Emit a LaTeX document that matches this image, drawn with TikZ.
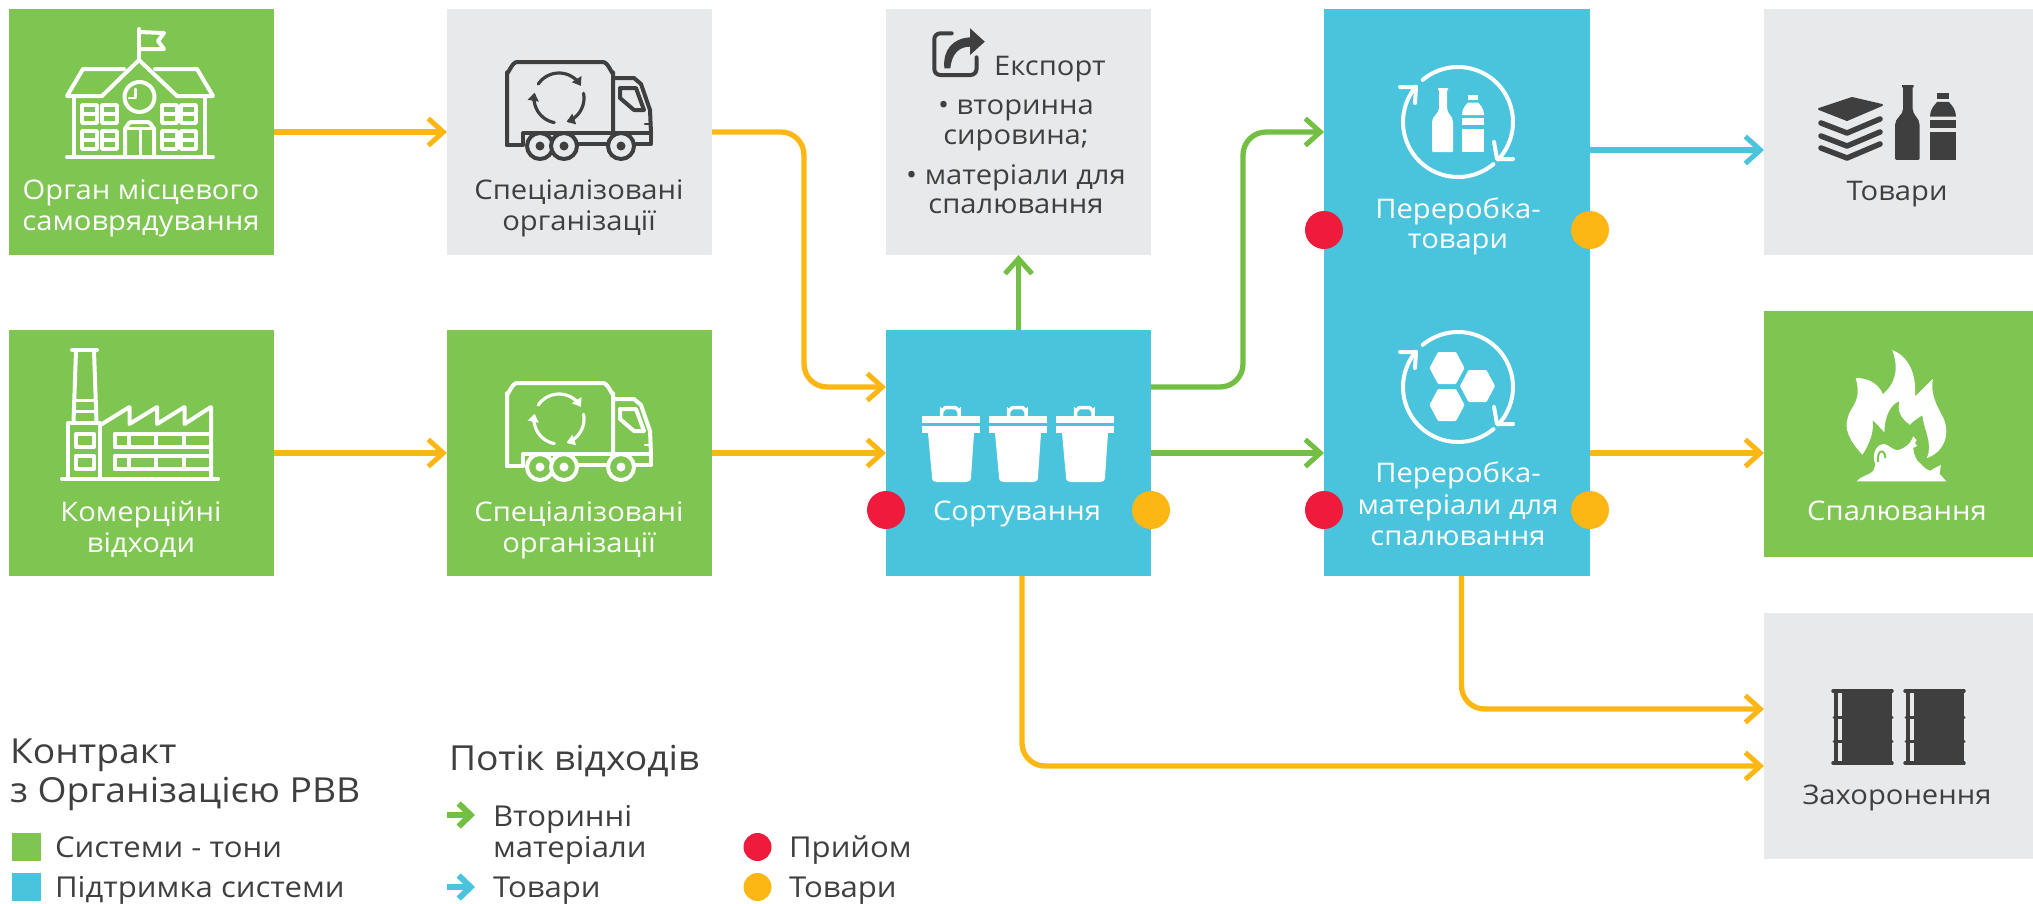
\documentclass[tikz,border=0pt]{standalone}
\usepackage{fontspec}
\setmainfont[FakeStretch=1.08]{Open Sans}
\usetikzlibrary{arrows.meta}
\definecolor{cgreen}{HTML}{7EC552}
\definecolor{cgrey}{HTML}{E8E9EB}
\definecolor{cblue}{HTML}{49C4DC}
\definecolor{corange}{HTML}{FDB714}
\definecolor{cred}{HTML}{EF1B3D}
\definecolor{carrgreen}{HTML}{72BF44}
\definecolor{cdark}{HTML}{3F3F3F}
\tikzset{
 box/.style={inner sep=0pt,outer sep=0pt,draw=none,minimum width=265pt,minimum height=246pt},
 lbl/.style={inner sep=0pt,outer sep=0pt,anchor=base,font=\fontsize{27}{30}\selectfont,text=white},
 dlbl/.style={lbl,text=cdark},
 lgd/.style={inner sep=0pt,outer sep=0pt,anchor=base west,font=\fontsize{28.8}{30}\selectfont,text=cdark},
 lgdh/.style={lgd,font=\fontsize{34.5}{36}\selectfont},
 dotmark/.style={circle,inner sep=0pt,outer sep=0pt,minimum size=38pt},
 conn/.style={line width=5.3pt,rounded corners=23pt,-{Straight Barb[length=15pt,width=27pt,line width=5pt]}},
 lgdarr/.style={line width=6pt,-{Straight Barb[length=12pt,width=23pt,line width=6pt]}},
 icon/.style={line width=4pt,line cap=round,line join=round},
}
\newcommand\truckicon[3]{%
 \begin{scope}[shift={(0,#3)},icon,draw=#1]
 \draw (507,145) -- (507,72) to[out=-90,in=180] (517,62) -- (603,62) to[out=0,in=-90] (613,72) -- (613,133);
 \draw (507,145) -- (523,145) -- (523,133) -- (651,133) -- (651,144) -- (636,144);
 \draw (578,144) -- (608,144);
 \draw (613,78) -- (634,78) -- (641,84) -- (650,110) -- (651,133);
 \draw (620,88) -- (636,88) -- (644,110) -- (634,110) -- (620,98) -- cycle;
 \draw[line width=2.5pt] (645,124) -- (651,124);
 \foreach \cx in {540,564,621}{\draw[fill=#2] (\cx,146) circle[radius=13pt]; \fill[#1] (\cx,146) circle[radius=4.5pt];}
 \begin{scope}[shift={(559,98)}]
 \foreach \a/\b in {-146/-29,-11/72,101/192}{
 \draw[line width=3.2pt,-{Triangle[length=8pt,width=11pt]}] plot[domain=\a:\b,samples=20,variable=\t] ({25*cos(\t)},{25*sin(\t)});}
 \end{scope}
 \end{scope}}
\newcommand\bigcycle[3]{%
 \begin{scope}[shift={(#1,#2)},icon,draw=#3]
 \draw plot[domain=-130:43,samples=40,variable=\t] ({55*cos(\t)},{55*sin(\t)});
 \draw plot[domain=50:220,samples=40,variable=\t] ({55*cos(\t)},{55*sin(\t)});
 \draw (36,20) -- (39,37) -- (55,37);
 \draw (-58,-35) -- (-42,-35) -- (-43,-19);
 \end{scope}}
\newcommand\bottlepair[5]{% x y scale colour bg
 \begin{scope}[shift={(#1,#2)},scale=#3]
 \fill[#4] (6,2) -- (6,0) -- (16,0) -- (16,2) -- (15,2) -- (15,20) .. controls (15,26) and (21,28) .. (21,34) -- (21,63) -- (20,64) -- (1,64) -- (0,63) -- (0,34) .. controls (0,28) and (7,26) .. (7,20) -- (7,2) -- cycle;
 \fill[#4] (36,7) rectangle (46,12);
 \fill[#4] (36,14.5) -- (46,14.5) .. controls (48,17) and (52,20) .. (52,27) -- (30,27) .. controls (30,20) and (34,17) .. (36,14.5) -- cycle;
 \fill[#4] (30,30) rectangle (52,37);
 \fill[#4] (30,40.5) rectangle (52,64);
 \end{scope}}
\newcommand\binicon[1]{%
 \begin{scope}[shift={(#1,0)}]
 \draw[white,line width=3.5pt] (941.5,416) -- (941.5,411) to[out=-90,in=180] (946,407.5) -- (955,407.5) to[out=0,in=-90] (959,411) -- (959,416);
 \fill[white] (922,416) rectangle (980,423);
 \fill[white] (922,426) rectangle (980,433);
 \fill[white] (928,433) -- (974,433) -- (971,477) .. controls (971,481) and (969,482) .. (966,482) -- (937,482) .. controls (934,482) and (932,481) .. (932,477) -- cycle;
 \end{scope}}
\newcommand\drumicon[1]{%
 \begin{scope}[shift={(#1,0)}]
 \fill[cdark] (1842,691) rectangle (1889.5,763);
 \fill[cdark] (1834,691) rectangle (1838,763);
 \fill[cdark] (1889.5,691) rectangle (1892,763);
 \draw[cdark,line width=3.5pt,line cap=round] (1833,691) -- (1892,691);
 \draw[cdark,line width=3.5pt,line cap=round] (1833,763) -- (1892,763);
 \draw[cdark,line width=3pt,line cap=round] (1834,717) -- (1892,717);
 \draw[cdark,line width=3pt,line cap=round] (1834,741) -- (1892,741);
 \end{scope}}
\begin{document}
\begin{tikzpicture}[x=1pt,y=-1pt]
\useasboundingbox (0,0) rectangle (2033,903);
% boxes
\node[box,fill=cgreen] (org) at (141.5,132) {};
\node[box,fill=cgrey] (spec) at (579.5,132) {};
\node[box,fill=cgreen] (comm) at (141.5,453) {};
\node[box,fill=cgreen] (specb) at (579.5,453) {};
\node[box,fill=cgrey] (export) at (1018.5,132) {};
\node[box,fill=cblue] (sort) at (1018.5,453) {};
\node[box,fill=cblue,minimum width=266pt,minimum height=567pt] (recyc) at (1457,292.5) {};
\node[box,fill=cgrey,minimum width=269pt] (goods) at (1898.5,132) {};
\node[box,fill=cgreen,minimum width=269pt] (burn) at (1898.5,434) {};
\node[box,fill=cgrey,minimum width=269pt] (land) at (1898.5,736) {};
% levels
\coordinate (lvlA) at (0,387);
\coordinate (lvlB) at (0,150);
\coordinate (lvlC) at (0,709);
\coordinate (lvlD) at (0,766);
\coordinate (dropA) at (1022,0);
\coordinate (dropB) at (1461.5,0);
\coordinate (turnA) at (804,0);
\coordinate (turnB) at (1243,0);
% connectors
\draw[conn,corange] (org.east) -- (spec.west);
\draw[conn,corange] (comm.east) -- (specb.west);
\draw[conn,corange] (specb.east) -- (sort.west);
\draw[conn,corange] (spec.east) -- (turnA |- spec.east) -- (turnA |- lvlA) -- (sort.west |- lvlA);
\draw[conn,carrgreen] (sort.north) -- (export.south);
\draw[conn,carrgreen] (sort.east |- lvlA) -- (turnB |- lvlA) -- (turnB |- spec.east) -- (recyc.west |- spec.east);
\draw[conn,carrgreen] (sort.east) -- (recyc.west |- sort.east);
\draw[conn,cblue] (recyc.east |- lvlB) -- (goods.west |- lvlB);
\draw[conn,corange] (recyc.east |- sort.east) -- (burn.west |- sort.east);
\draw[conn,corange] (dropB |- recyc.south) -- (dropB |- lvlC) -- (land.west |- lvlC);
\draw[conn,corange] (dropA |- sort.south) -- (dropA |- lvlD) -- (land.west |- lvlD);
% dots
\node[dotmark,fill=cred] (d1) at (886,510) {};
\node[dotmark,fill=corange] (d2) at (1151,510) {};
\node[dotmark,fill=cred] (d3) at (1324,510) {};
\node[dotmark,fill=corange] (d4) at (1590,510) {};
\node[dotmark,fill=cred] (d5) at (1324,230) {};
\node[dotmark,fill=corange] (d6) at (1590,230) {};
% labels
\node[lbl] (t1) at (141,199.5) {Орган місцевого};
\node[lbl] (t2) at (141,230.5) {самоврядування};
\node[dlbl] (t3) at (579,199.5) {Спеціалізовані};
\node[dlbl] (t4) at (579,230.5) {організації};
\node[lbl] (t5) at (141,521) {Комерційні};
\node[lbl] (t6) at (141,552) {відходи};
\node[lbl] (t7) at (579,521) {Спеціалізовані};
\node[lbl] (t8) at (579,552) {організації};
\node[dlbl] (t9) at (1050,75) {Експорт};
\node[dlbl] (t10) at (1016,114) {• вторинна};
\node[dlbl] (t11) at (1016,144) {сировина;};
\node[dlbl] (t12) at (1016,184) {• матеріали для};
\node[dlbl] (t13) at (1016,213) {спалювання};
\node[lbl] (t14) at (1017,520) {Сортування};
\node[lbl] (t15) at (1458,218) {Переробка-};
\node[lbl] (t16) at (1458,248) {товари};
\node[lbl] (t17) at (1458,482) {Переробка-};
\node[lbl] (t18) at (1458,514) {матеріали для};
\node[lbl] (t19) at (1458,545) {спалювання};
\node[dlbl] (t20) at (1897,200) {Товари};
\node[lbl] (t21) at (1897,520) {Спалювання};
\node[dlbl] (t22) at (1897,804) {Захоронення};
% legend
\node[lgdh] (h1) at (10,763) {Контракт};
\node[lgdh] (h2) at (10,802) {з Організацією РВВ};
\node[lgdh] (h3) at (449,770) {Потік відходів};
\node[inner sep=0pt,fill=cgreen,minimum width=29pt,minimum height=28pt] (s1) at (26.5,847) {};
\node[inner sep=0pt,fill=cblue,minimum width=29pt,minimum height=28pt] (s2) at (26.5,887) {};
\node[lgd] (l1) at (55,857) {Системи - тони};
\node[lgd] (l2) at (55,897) {Підтримка системи};
\coordinate (a1s) at (447,815);
\coordinate (a1e) at (475,815);
\coordinate (a2s) at (447,887);
\coordinate (a2e) at (475,887);
\draw[lgdarr,carrgreen] (a1s) -- (a1e);
\draw[lgdarr,cblue] (a2s) -- (a2e);
\node[lgd] (l3) at (493,826) {Вторинні};
\node[lgd] (l4) at (493,857) {матеріали};
\node[lgd] (l5) at (493,897) {Товари};
\node[dotmark,fill=cred,minimum size=28pt] (ld1) at (757.5,847) {};
\node[dotmark,fill=corange,minimum size=28pt] (ld2) at (757.5,887) {};
\node[lgd] (l6) at (789,857) {Прийом};
\node[lgd] (l7) at (789,897) {Товари};
% school icon
\begin{scope}[icon,draw=white]
 \draw (139,58) -- (139,29);
 \draw (139,32) -- (164,33) -- (158,41) -- (164,49) -- (139,49);
 \draw (102,96) -- (139,60) -- (177,96);
 \draw (102,96) -- (67,96) -- (83,69) -- (124,69);
 \draw (177,96) -- (213,96) -- (197,69) -- (155,69);
 \draw (73.5,96) -- (73.5,157);
 \draw (205,96) -- (205,157);
 \draw (67,157) -- (213,157);
 \draw (139.5,97) circle[radius=15pt];
 \draw[line width=2.5pt] (135.5,89) -- (135.5,98) -- (129,98);
 \foreach \wx/\wy in {82/105,102/105,162/105,181/105,82/131,102/131,162/131,181/131}{
 \draw[line width=3.5pt] (\wx,\wy) rectangle ++(15,18);
 \draw[line width=3.5pt] (\wx,\wy+9) -- ++(15,0);}
 \draw (125,157) -- (125,128) to[out=-90,in=180] (131,122) -- (148,122) to[out=0,in=-90] (154,128) -- (154,157);
 \draw[line width=3pt] (125,128) -- (154,128);
 \draw[line width=3pt] (140,128) -- (140,157);
\end{scope}
% factory icon
\begin{scope}[icon,draw=white]
 \draw (72,350) -- (97,350);
 \draw (76,351) -- (73.5,422);
 \draw (94,351) -- (96.5,422);
 \draw[line width=3pt] (75,400) -- (95,400);
 \draw[line width=3pt] (75,411) -- (95,411);
 \draw (68,477) -- (68,423) -- (100,423) -- (100,477);
 \draw (62,479) -- (218,479);
 \draw (102,424) -- (129.5,407) -- (129.5,424) -- (157,407) -- (157,424) -- (184.5,407) -- (184.5,424) -- (211,407) -- (211,479);
 \foreach \wy in {434,456}{
 \draw (76,\wy) rectangle (94,\wy+13);
 \draw (115,\wy) -- (211,\wy);
 \draw (115,\wy+13) -- (211,\wy+13);
 \draw (115,\wy) -- (115,\wy+13);
 \foreach \vx in {128.5,156,184}{\draw (\vx,\wy) -- (\vx,\wy+13);}
 }
\end{scope}
% trucks
\truckicon{cdark}{cgrey}{0}
\truckicon{white}{cgreen}{321}
% export icon
\begin{scope}[shift={(870,0)},xscale=1/2.178,yscale=1/3]
 \draw[cdark,line width=4pt,line cap=round,rounded corners=6pt] (178,100) -- (140,100) -- (140,225) -- (232,225) -- (232,172);
 \fill[cdark] (162,205) .. controls (158,150) and (180,115) .. (218,112) -- (218,85) -- (250,125) -- (218,165) -- (218,140) .. controls (195,140) and (178,160) .. (175,205) -- cycle;
\end{scope}
% recycling panels
\bigcycle{1458}{122}{white}
\bigcycle{1458}{387}{white}
\bottlepair{1432}{88}{1}{white}{cblue}
\foreach \hx/\hy in {1447/368,1477.5/386,1447/405}{
 \fill[white,rounded corners=1pt] (\hx-17.5,\hy) -- (\hx-9,\hy-16) -- (\hx+9,\hy-16) -- (\hx+17.5,\hy) -- (\hx+9,\hy+16) -- (\hx-9,\hy+16) -- cycle;}
% bins
\binicon{0}\binicon{67}\binicon{134}
% goods icon
\begin{scope}[line join=round,line cap=round,draw=cdark]
 \fill[cdark,draw=cdark,line width=2pt] (1819,109) -- (1852,98) -- (1882,105) -- (1847,120) -- cycle;
 \draw[line width=5.5pt] (1821,123) -- (1847,133) -- (1880,119);
 \draw[line width=5.5pt] (1821,136) -- (1847,146) -- (1880,132);
 \draw[line width=5.5pt] (1821,148) -- (1847,158) -- (1880,144);
\end{scope}
\bottlepair{1895}{85}{1.17}{cdark}{cgrey}
% flame
\begin{scope}[shift={(1700,0)},xscale=1/2.955,yscale=1/2.613]
 \fill[white] (480,1188) .. controls (440,1150) and (425,1120) .. (437,1090) .. controls (445,1060) and (480,1050) .. (460,987) .. controls (500,988) and (530,1005) .. (540,1030) .. controls (575,1005) and (590,965) .. (568,915) .. controls (615,930) and (640,975) .. (635,1035) .. controls (650,1025) and (670,1005) .. (688,990) .. controls (680,1030) and (700,1060) .. (718,1090) .. controls (740,1130) and (725,1180) .. (670,1197) .. controls (690,1160) and (660,1120) .. (657,1085) .. controls (640,1095) and (630,1100) .. (620,1110) .. controls (590,1090) and (582,1070) .. (590,1048) .. controls (565,1055) and (545,1085) .. (545,1130) .. controls (530,1115) and (520,1105) .. (510,1098) .. controls (515,1130) and (500,1160) .. (480,1188) -- cycle;
 \fill[white] (463,1258) .. controls (480,1240) and (495,1245) .. (512,1230) -- (518,1215) .. controls (505,1180) and (525,1160) .. (545,1160) .. controls (565,1165) and (570,1180) .. (590,1175) .. controls (605,1170) and (620,1160) .. (625,1150) -- (630,1140) -- (640,1150) -- (635,1158) -- (642,1165) -- (630,1170) .. controls (632,1190) and (640,1205) .. (650,1210) .. controls (660,1220) and (670,1228) .. (680,1230) -- (700,1220) -- (712,1215) -- (708,1238) -- (728,1258) -- cycle;
 \draw[cgreen,line width=2pt] (526,1207) .. controls (522,1175) and (545,1170) .. (548,1197);
\end{scope}
% drums
\drumicon{0}\drumicon{72}
\end{tikzpicture}
\end{document}
